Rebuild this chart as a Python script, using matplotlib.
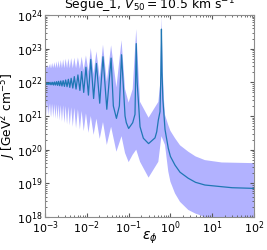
import numpy as np
import matplotlib
matplotlib.use("Agg")
import matplotlib.pyplot as plt

# resonance positions (n = 24 ... 1) and the dips between them
res_eps = [0.00106, 0.00115, 0.00126, 0.00138, 0.00152, 0.00168, 0.00188, 0.0021,
           0.00237, 0.0027, 0.0031, 0.0036, 0.0042, 0.0050, 0.0061, 0.0075, 0.0095,
           0.0124, 0.0169, 0.0243, 0.038, 0.0676, 0.152, 0.61]
dip_eps = [0.0011, 0.0012, 0.00132, 0.00145, 0.0016, 0.00178, 0.00199, 0.00223,
           0.00253, 0.0029, 0.00335, 0.0039, 0.0046, 0.0055, 0.0068, 0.0084, 0.0109,
           0.0145, 0.0203, 0.030, 0.051, 0.10, 0.30]

# log10 J of the central curve
line_peak = [21.98, 21.98, 21.99, 22.0, 22.0, 22.01, 22.02, 22.03, 22.04, 22.05, 22.07,
             22.09, 22.12, 22.17, 22.22, 22.32, 22.45, 22.68, 22.56, 22.76, 22.72,
             22.82, 23.15, 23.58]
line_dip = [21.94, 21.94, 21.93, 21.93, 21.92, 21.92, 21.91, 21.90, 21.89, 21.88, 21.87,
            21.85, 21.83, 21.80, 21.76, 21.70, 21.62, 21.52, 21.38, 21.20, 20.93,
            20.63, 20.18]
line_x_extra = [0.001, 0.043, 0.06, 0.082, 0.088, 0.125, 0.142, 0.16, 0.1875, 0.225,
                0.428, 0.47, 0.514, 0.564, 0.59, 0.63, 0.66, 0.743, 0.89, 1.0, 1.29,
                1.7, 2.68, 4.0, 6.7, 16.9, 30, 100]
line_y_extra = [21.95, 21.3, 21.3, 21.0, 20.8, 20.8, 21.05, 22.0, 20.68, 20.34,
                20.35, 20.53, 20.88, 21.13, 22.2, 22.3, 21.5, 20.6, 20.04, 19.8, 19.54,
                19.33, 19.15, 19.03, 18.95, 18.9, 18.87, 18.85]

# log10 J of the upper edge of the band
up_peak = [22.5, 22.52, 22.54, 22.56, 22.58, 22.6, 22.62, 22.64, 22.66, 22.68, 22.7,
           22.71, 22.72, 22.73, 22.74, 22.76, 22.8, 23.02, 22.92, 23.12, 23.1, 23.25,
           23.58, 23.94]
up_dip = [22.42, 22.42, 22.42, 22.42, 22.42, 22.42, 22.42, 22.42, 22.42, 22.42, 22.42,
          22.42, 22.42, 22.42, 22.4, 22.37, 22.32, 22.25, 22.15, 22.02, 21.85, 21.4,
          20.95]
up_x_extra = [0.001, 0.082, 0.125, 0.1875, 0.514, 0.564, 0.66, 0.7, 0.743, 0.89, 1.0,
              1.29, 1.7, 2.68, 4.0, 6.7, 16.9, 100]
up_y_extra = [22.42, 21.8, 21.8, 21.42, 21.42, 21.9, 22.3, 21.5, 21.03, 20.73, 20.56,
              20.34, 20.13, 19.94, 19.8, 19.69, 19.62, 19.6]

# log10 J of the lower edge of the band
low_peak = [21.39, 21.39, 21.38, 21.38, 21.37, 21.36, 21.35, 21.34, 21.33, 21.32, 21.3,
            21.28, 21.26, 21.24, 21.2, 21.15, 21.08, 21.0, 20.92, 20.82, 20.68, 20.4,
            20.0, 20.4]
low_dip = [21.0, 21.0, 20.98, 20.96, 20.94, 20.92, 20.9, 20.87, 20.83, 20.79, 20.75,
           20.72, 20.68, 20.64, 20.6, 20.55, 20.5, 20.44, 20.32, 20.14, 19.94, 19.63,
           19.17]
low_x_extra = [0.001, 0.082, 0.125, 0.1875, 0.514, 0.743, 0.89, 1.0, 1.29, 1.7, 2.68,
               4.0, 5.0, 7.5, 100]
low_y_extra = [21.39, 19.9, 19.85, 19.64, 19.64, 20.14, 19.35, 19.05, 18.7, 18.45, 18.21,
               18.1, 18.06, 17.95, 17.7]


def curve(peak, dip, xe, ye):
    x = np.concatenate([res_eps, dip_eps, xe])
    y = np.concatenate([peak, dip, ye])
    o = np.argsort(x)
    return x[o], 10 ** y[o]


xl, yl = curve(line_peak, line_dip, line_x_extra, line_y_extra)
xu, yu = curve(up_peak, up_dip, up_x_extra, up_y_extra)
xd, yd = curve(low_peak, low_dip, low_x_extra, low_y_extra)

fig = plt.figure(figsize=(2.67, 2.5), dpi=100)
ax = fig.add_axes([0.169, 0.132, 0.782, 0.808])
ax.set_xscale("log")
ax.set_yscale("log")
ax.fill(np.r_[xu, xd[::-1]], np.r_[yu, yd[::-1]], color="b", alpha=0.3, lw=0)
ax.plot(xl, yl, color="#1f77b4", lw=0.9)
ax.set_xlim(1e-3, 1e2)
ax.set_ylim(1e18, 1e24)
ax.set_title(r"Segue_1, $V_{50} = 10.5$ km s$^{-1}$", fontsize=8.9, pad=1)
ax.set_xlabel(r"$\varepsilon_\phi$", fontsize=10)
ax.set_ylabel(r"$J$ [GeV$^2$ cm$^{-5}$]", fontsize=8.8)
ax.xaxis.set_label_coords(0.5, -0.065)
ax.yaxis.set_label_coords(-0.13, 0.5)
ax.tick_params(which="both", direction="in", top=True, right=True, labelsize=8,
               colors="0.35", labelcolor="black")
ax.tick_params(which="major", length=3, pad=2)
ax.tick_params(which="minor", length=1.5)
for s in ax.spines.values():
    s.set_color("0.55")
fig.savefig("out.png", dpi=100)
